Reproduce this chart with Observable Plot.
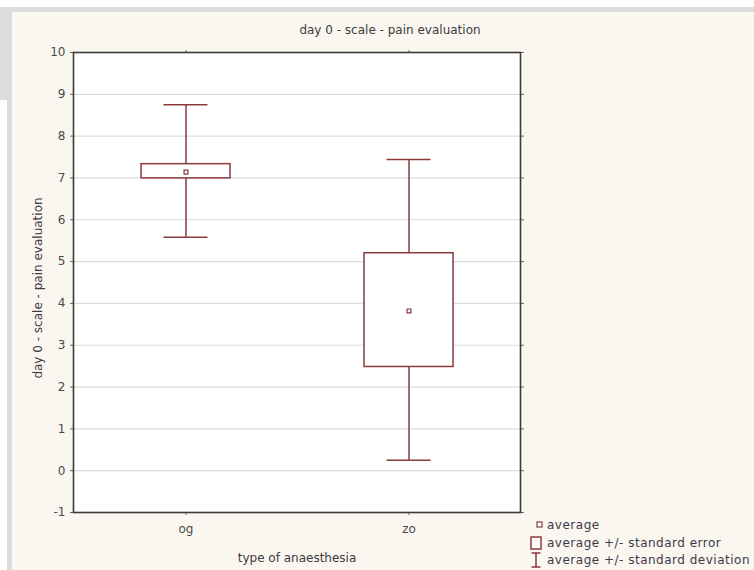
<!DOCTYPE html>
<html><head><meta charset="utf-8">
<script src="https://cdn.jsdelivr.net/npm/d3@7"></script>
<script src="https://cdn.jsdelivr.net/npm/@observablehq/plot@0.6"></script>
<style>
html,body{margin:0;padding:0;}
body{background:#fff;width:754px;height:570px;overflow:hidden;position:relative;font-family:"DejaVu Sans",sans-serif;}
.g{position:absolute;background:#dcdcdc;}
#panel{position:absolute;left:12px;top:12px;width:742px;height:558px;background:#faf6f0;overflow:hidden;}
#chart{position:absolute;left:0;top:0;}
.lbl{position:absolute;font-family:"DejaVu Sans",sans-serif;font-size:12px;color:#3c3c3c;white-space:nowrap;line-height:14px;}
#title{left:278px;width:200px;top:11px;text-align:center;}
#xlabel{left:185px;width:200px;top:539px;text-align:center;}
#ylabel{left:26px;top:269px;width:240px;margin-left:-120px;text-align:center;transform:rotate(-90deg);}
.leg{position:absolute;font-family:"DejaVu Sans",sans-serif;font-size:12px;letter-spacing:0.5px;color:#3a3a48;white-space:nowrap;line-height:14px;}
.sym{position:absolute;line-height:0;}
.sym svg{display:block;}
</style>
</head><body>
<div class="g" style="left:0;top:7px;width:754px;height:5px;"></div>
<div class="g" style="left:0;top:7px;width:12px;height:93px;"></div>
<div class="g" style="left:7px;top:100px;width:5px;height:470px;"></div>
<div id="panel">
  <div id="chart"></div>
  <div class="lbl" id="title">day 0 - scale - pain evaluation</div>
  <div class="lbl" id="xlabel">type of anaesthesia</div>
  <div class="lbl" id="ylabel">day 0 - scale - pain evaluation</div>
  <div id="legend"></div>
</div>
<script>
const categories = ["og", "zo"];
const means  = [7.14, 3.82];
const seLow  = [6.99, 2.48];
const seHigh = [7.33, 5.20];
const sdLow  = [5.58, 0.25];
const sdHigh = [8.75, 7.44];
const yTicks = [-1, 0, 1, 2, 3, 4, 5, 6, 7, 8, 9, 10];
const legendLabels = ["average", "average +/- standard error", "average +/- standard deviation"];

const color = "#8b3a3a";
const data = categories.map((c, i) => ({cat: c, mean: means[i], seLow: seLow[i], seHigh: seHigh[i], sdLow: sdLow[i], sdHigh: sdHigh[i]}));

const chart = Plot.plot({
  width: 742, height: 558,
  marginLeft: 61, marginTop: 40, marginRight: 234, marginBottom: 58,
  style: {background: "transparent", fontFamily: "DejaVu Sans, sans-serif", fontSize: "12px", color: "#4a4a4a"},
  x: {type: "band", domain: categories, padding: 0, label: null},
  y: {domain: [-1, 10], label: null},
  marks: [
    Plot.frame({fill: "white", stroke: "none"}),
    Plot.ruleY(yTicks.filter(t => t > -1 && t < 10), {stroke: "#dcdcdc", strokeWidth: 1.2}),
    Plot.axisY({ticks: yTicks, tickSize: 3, tickPadding: 5, tickFormat: d => String(d), label: null, stroke: "#666", fontSize: 12}),
    Plot.axisY({ticks: yTicks, anchor: "right", tickSize: 3, tickFormat: () => "", label: null, stroke: "#666"}),
    Plot.axisX({tickSize: 3, tickPadding: 9, label: null, stroke: "#666", fontSize: 12}),
    Plot.axisX({anchor: "top", tickSize: 3, tickFormat: () => "", label: null, stroke: "#666"}),
    Plot.ruleX(data, {x: "cat", y1: "sdLow", y2: "sdHigh", stroke: color, strokeWidth: 1.5}),
    Plot.tickY(data, {x: "cat", y: "sdHigh", insetLeft: 89.5, insetRight: 89.5, stroke: color, strokeWidth: 1.5}),
    Plot.tickY(data, {x: "cat", y: "sdLow", insetLeft: 89.5, insetRight: 89.5, stroke: color, strokeWidth: 1.5}),
    Plot.barY(data, {x: "cat", y1: "seLow", y2: "seHigh", fill: "white", stroke: color, strokeWidth: 1.5, insetLeft: 67, insetRight: 67}),
    Plot.dot(data, {x: "cat", y: "mean", symbol: "square", r: 2.2, stroke: color, fill: "white", strokeWidth: 1.2}),
    Plot.frame({stroke: "#3a3a3a", strokeWidth: 1.6})
  ]
});
document.getElementById("chart").appendChild(chart);

// legend (panel coordinates)
const leg = document.getElementById("legend");
const rowTops = [506, 524, 541];
const syms = [
  {left: 524, top: 509, w: 7, h: 7, svg: '<rect x="1" y="1" width="5" height="5" fill="white" stroke="' + color + '" stroke-width="1.2"/>'},
  {left: 518, top: 524, w: 12, h: 14, svg: '<rect x="1" y="1" width="10" height="12" fill="white" stroke="' + color + '" stroke-width="1.5"/>'},
  {left: 518, top: 540, w: 12, h: 18, svg: '<path d="M1.5,1H10.5M6,1V15M1.5,15H10.5" fill="none" stroke="' + color + '" stroke-width="1.5"/>'}
];
legendLabels.forEach((t, i) => {
  const s = syms[i];
  const sv = document.createElement("div");
  sv.className = "sym";
  sv.style.left = s.left + "px";
  sv.style.top = s.top + "px";
  sv.innerHTML = '<svg width="' + s.w + '" height="' + s.h + '">' + s.svg + '</svg>';
  leg.appendChild(sv);
  const d = document.createElement("div");
  d.className = "leg";
  d.style.left = "535px";
  d.style.top = rowTops[i] + "px";
  d.textContent = t;
  leg.appendChild(d);
});
</script>
</body></html>
